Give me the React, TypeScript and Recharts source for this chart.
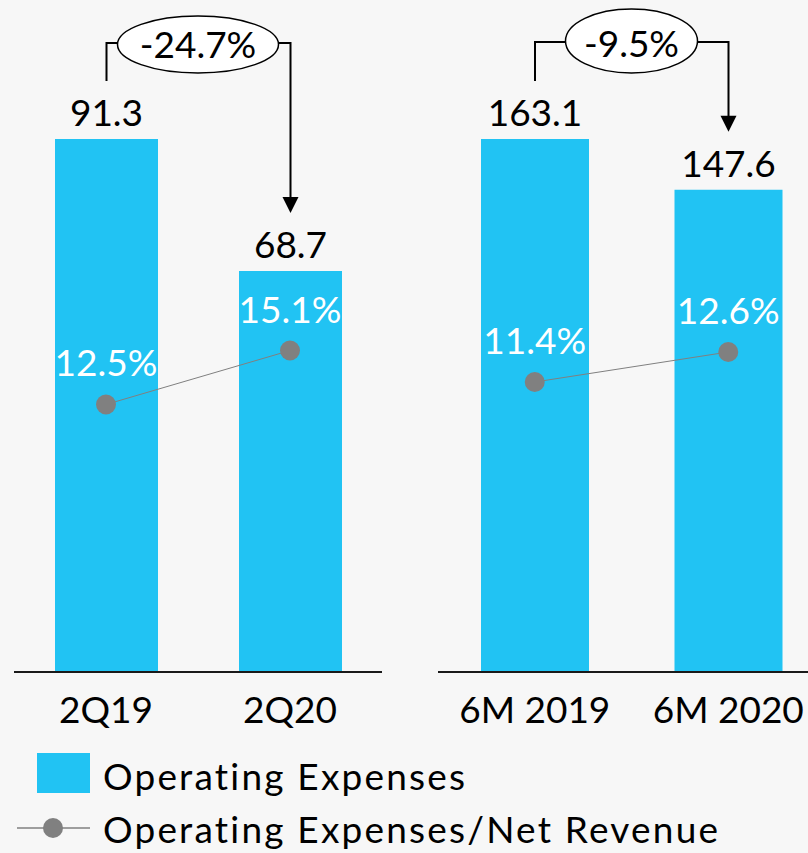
import { ComposedChart, Bar, Line, XAxis, YAxis, LabelList, Legend } from 'recharts'

const quarterLabels = ['2Q19', '2Q20']
const quarterOpex = [91.3, 68.7]
const quarterRatio = [12.5, 15.1]
const quarterChange = '-24.7%'

const halfYearLabels = ['6M 2019', '6M 2020']
const halfYearOpex = [163.1, 147.6]
const halfYearRatio = [11.4, 12.6]
const halfYearChange = '-9.5%'

const seriesNames = ['Operating Expenses', 'Operating Expenses/Net Revenue']

const BLUE = '#21c3f3'
const GREY = '#808080'
const BG = '#f7f7f7'
const EDGE = '#ebebeb'
const FONT = 'Lato, "Open Sans", sans-serif'
const FONT_SIZE = 37
const WEIGHT = 400

const buildRows = (labels: string[], opex: number[], ratio: number[]) =>
  labels.map((label, i) => ({ label, opex: opex[i], ratio: ratio[i] }))

interface Bubble {
  rx: number
  ry: number
  cy: number
  lineY: number
}

interface PanelProps {
  rows: { label: string; opex: number; ratio: number }[]
  change: string
  left: number
  width: number
  height: number
  margin: { top: number; right: number; bottom: number; left: number }
  barSize: number
  ratioDomain: [number, number]
  bubble: Bubble
  withLegend?: boolean
}

// X axis labels under the bars
const CategoryTick = ({ x, y, payload }: any) => (
  <text x={x} y={y + 51} textAnchor="middle" fontSize={FONT_SIZE} fontWeight={WEIGHT} fontFamily={FONT} fill="#000">
    {payload.value}
  </text>
)

const LegendContent = ({ payload }: any) => {
  const items = payload || []
  return (
    <svg width={808} height={113} style={{ display: 'block' }}>
      {items.map((entry: any, i: number) => {
        const isLine = entry.type === 'line'
        const row = isLine ? 88 : 33
        return (
          <g key={i}>
            {isLine ? (
              <g>
                <line x1={17} x2={90} y1={row} y2={row} stroke={GREY} strokeWidth={1.5} />
                <circle cx={53} cy={row} r={10} fill={GREY} />
              </g>
            ) : (
              <rect x={37} y={13} width={53} height={40} fill={BLUE} />
            )}
            <text
              x={103}
              y={isLine ? 103 : 50}
              fontSize={FONT_SIZE}
              fontWeight={WEIGHT}
              fontFamily={FONT}
              fill="#000"
              letterSpacing={2.2}
            >
              {entry.value}
            </text>
          </g>
        )
      })}
    </svg>
  )
}

function Panel({ rows, change, left, width, height, margin, barSize, ratioDomain, bubble, withLegend }: PanelProps) {
  const plotWidth = width - margin.left - margin.right
  const midX = margin.left + plotWidth / 2

  // value above each bar, plus the connector/arrow to the change bubble
  const renderValue = (props: any) => {
    const { x, y, width: w, value, index } = props
    const cx = x + w / 2
    const end = y - 58
    const ly = bubble.lineY
    return (
      <g>
        <text x={cx} y={y - 13} textAnchor="middle" fontSize={FONT_SIZE} fontWeight={WEIGHT} fontFamily={FONT} fill="#000">
          {value}
        </text>
        {index === 0 ? (
          <g>
            <polyline
              points={`${cx},${end} ${cx},${ly} ${midX - bubble.rx},${ly}`}
              fill="none"
              stroke="#000"
              strokeWidth={2}
            />
            <ellipse cx={midX} cy={bubble.cy} rx={bubble.rx} ry={bubble.ry} fill="#fff" stroke="#000" strokeWidth={1.5} />
            <text x={midX} y={ly + 15} textAnchor="middle" fontSize={FONT_SIZE} fontWeight={WEIGHT} fontFamily={FONT} fill="#000">
              {change}
            </text>
          </g>
        ) : (
          <g>
            <polyline
              points={`${midX + bubble.rx},${ly} ${cx},${ly} ${cx},${end - 15}`}
              fill="none"
              stroke="#000"
              strokeWidth={2}
            />
            <polygon points={`${cx - 8},${end - 16} ${cx + 8},${end - 16} ${cx},${end}`} fill="#000" />
          </g>
        )}
      </g>
    )
  }

  const renderRatio = (props: any) => {
    const { x, y, value } = props
    return (
      <text x={x} y={y - 28} textAnchor="middle" fontSize={FONT_SIZE} fontWeight={WEIGHT} fontFamily={FONT} fill="#fff">
        {`${value}%`}
      </text>
    )
  }

  return (
    <div style={{ position: 'absolute', left, top: 0 }}>
      <ComposedChart width={width} height={height} data={rows} margin={margin}>
        <XAxis
          dataKey="label"
          axisLine={{ stroke: '#1a1a1a', strokeWidth: 2 }}
          tickLine={false}
          tickSize={0}
          tickMargin={0}
          height={68}
          tick={<CategoryTick />}
        />
        <YAxis yAxisId="opex" domain={[0, 'dataMax']} width={0} tick={false} tickLine={false} axisLine={{ stroke: EDGE }} />
        <YAxis
          yAxisId="ratio"
          orientation="right"
          domain={ratioDomain}
          width={0}
          tick={false}
          tickLine={false}
          axisLine={{ stroke: EDGE }}
        />
        <Bar yAxisId="opex" dataKey="opex" name={seriesNames[0]} fill={BLUE} barSize={barSize} isAnimationActive={false}>
          <LabelList dataKey="opex" content={renderValue} />
        </Bar>
        <Line
          yAxisId="ratio"
          dataKey="ratio"
          name={seriesNames[1]}
          stroke={GREY}
          strokeWidth={1}
          dot={(p: any) => <circle key={p.index} cx={p.cx} cy={p.cy} r={10} fill={GREY} />}
          activeDot={false}
          isAnimationActive={false}
        >
          <LabelList dataKey="ratio" content={renderRatio} />
        </Line>
        {withLegend && (
          <Legend
            verticalAlign="bottom"
            align="left"
            height={113}
            width={808}
            wrapperStyle={{ left: 0, bottom: 0, width: 808, height: 113 }}
            content={<LegendContent />}
          />
        )}
      </ComposedChart>
    </div>
  )
}

export default function App() {
  return (
    <div
      style={{
        position: 'absolute',
        left: 0,
        top: 0,
        width: 808,
        height: 853,
        background: BG,
        overflow: 'hidden',
      }}
    >
      <Panel
        rows={buildRows(quarterLabels, quarterOpex, quarterRatio)}
        change={quarterChange}
        left={0}
        width={400}
        height={853}
        margin={{ top: 139, right: 18, bottom: 0, left: 14 }}
        barSize={103}
        ratioDomain={[-0.4, 25.3]}
        bubble={{ rx: 80.5, ry: 28.5, cy: 44.5, lineY: 43 }}
        withLegend
      />
      <Panel
        rows={buildRows(halfYearLabels, halfYearOpex, halfYearRatio)}
        change={halfYearChange}
        left={424}
        width={420}
        height={740}
        margin={{ top: 139, right: 19, bottom: 0, left: 14 }}
        barSize={108}
        ratioDomain={[-0.2, 21.12]}
        bubble={{ rx: 66, ry: 32, cy: 41, lineY: 42 }}
      />
    </div>
  )
}
